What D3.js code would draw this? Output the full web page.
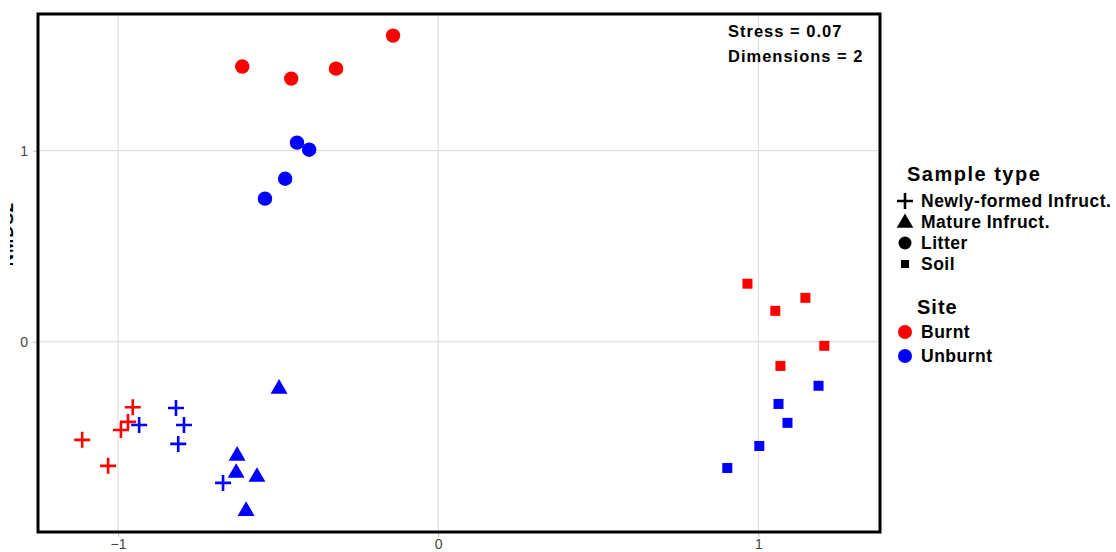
<!DOCTYPE html>
<html>
<head>
<meta charset="utf-8">
<script src="https://cdn.jsdelivr.net/npm/d3@7"></script>
<style>
  body { margin: 0; background: #fff; }
  text { font-family: "Liberation Sans", Arial, sans-serif; }
  .axis path { display: none; }
  .axis line { stroke: #bdbdbd; }
  .axis text { fill: #444; font-size: 14px; }
  .legend text { font-weight: bold; fill: #000; }
</style>
</head>
<body>
<script>
// NMDS scores
var litterBurntX = [-0.612, -0.459, -0.319, -0.141];
var litterBurntY = [1.440, 1.377, 1.429, 1.602];
var litterUnburntX = [-0.441, -0.403, -0.478, -0.541];
var litterUnburntY = [1.042, 1.005, 0.853, 0.749];
var soilBurntX = [0.966, 1.053, 1.147, 1.206, 1.069];
var soilBurntY = [0.304, 0.162, 0.230, -0.021, -0.126];
var soilUnburntX = [1.188, 1.063, 1.091, 1.003, 0.903];
var soilUnburntY = [-0.230, -0.325, -0.424, -0.545, -0.660];
var newBurntX = [-0.954, -0.969, -0.991, -1.112, -1.031];
var newBurntY = [-0.342, -0.419, -0.461, -0.513, -0.649];
var newUnburntX = [-0.819, -0.934, -0.794, -0.812, -0.672];
var newUnburntY = [-0.346, -0.435, -0.435, -0.534, -0.738];
var matureUnburntX = [-0.497, -0.628, -0.631, -0.566, -0.600];
var matureUnburntY = [-0.246, -0.597, -0.686, -0.707, -0.885];

var xTicks = [-1, 0, 1];
var yTicks = [0, 1];
var sampleTypes = ['Newly-formed Infruct.', 'Mature Infruct.', 'Litter', 'Soil'];
var sites = ['Burnt', 'Unburnt'];
var siteColors = ['#ff0000', '#0000ff'];

var width = 1116, height = 552;
var panel = { left: 38, right: 880, top: 14, bottom: 532 };

var x = d3.scaleLinear().domain([-1.25, 1.38]).range([panel.left, panel.right]);
var y = d3.scaleLinear().domain([-0.995, 1.715]).range([panel.bottom, panel.top]);
var color = d3.scaleOrdinal().domain(sites).range(siteColors);

function zip(xs, ys, type, site) {
	return xs.map(function(v, i) { return { x: v, y: ys[i], type: type, site: site }; });
}

var points = [].concat(
	zip(litterBurntX, litterBurntY, 'Litter', 'Burnt'),
	zip(litterUnburntX, litterUnburntY, 'Litter', 'Unburnt'),
	zip(soilBurntX, soilBurntY, 'Soil', 'Burnt'),
	zip(soilUnburntX, soilUnburntY, 'Soil', 'Unburnt'),
	zip(newBurntX, newBurntY, 'Newly-formed Infruct.', 'Burnt'),
	zip(newUnburntX, newUnburntY, 'Newly-formed Infruct.', 'Unburnt'),
	zip(matureUnburntX, matureUnburntY, 'Mature Infruct.', 'Unburnt')
);

var svg = d3.select('body').append('svg')
	.attr('width', width)
	.attr('height', height);

// grid
svg.append('g').selectAll('line').data(xTicks).join('line')
	.attr('x1', function(d) { return x(d); }).attr('x2', function(d) { return x(d); })
	.attr('y1', panel.top).attr('y2', panel.bottom)
	.attr('stroke', '#d9d9d9');
svg.append('g').selectAll('line').data(yTicks).join('line')
	.attr('y1', function(d) { return y(d); }).attr('y2', function(d) { return y(d); })
	.attr('x1', panel.left).attr('x2', panel.right)
	.attr('stroke', '#d9d9d9');

svg.append('g')
	.attr('class', 'axis axis--x')
	.attr('transform', 'translate(0,' + panel.bottom + ')')
	.call(d3.axisBottom(x).tickValues(xTicks).tickSize(5).tickPadding(2).tickFormat(d3.format('d')));

svg.append('g')
	.attr('class', 'axis axis--y')
	.attr('transform', 'translate(' + panel.left + ',0)')
	.call(d3.axisLeft(y).tickValues(yTicks).tickSize(5).tickPadding(5).tickFormat(d3.format('d')));

// y title, mostly cut off at the left edge
svg.append('clipPath').attr('id', 'ytclip')
	.append('rect').attr('x', 10).attr('y', 0).attr('width', 20).attr('height', height);
svg.append('g')
	.attr('clip-path', 'url(#ytclip)')
	.append('text')
		.attr('transform', 'translate(13,234) rotate(-90)')
		.attr('text-anchor', 'middle')
		.style('font-size', '17px')
		.style('font-weight', 'bold')
		.style('letter-spacing', '1px')
		.text('NMDS2');

function plusPath(d) {
	var cx = x(d.x), cy = y(d.y), r = 8;
	return 'M' + (cx - r) + ',' + cy + 'H' + (cx + r) + 'M' + cx + ',' + (cy - r) + 'V' + (cy + r);
}

var marks = svg.append('g');

marks.selectAll('path.plus')
	.data(points.filter(function(d) { return d.type === 'Newly-formed Infruct.'; }))
	.join('path')
		.attr('class', 'plus')
		.attr('d', plusPath)
		.attr('fill', 'none')
		.attr('stroke', function(d) { return color(d.site); })
		.attr('stroke-width', 2.6);

marks.selectAll('path.tri')
	.data(points.filter(function(d) { return d.type === 'Mature Infruct.'; }))
	.join('path')
		.attr('class', 'tri')
		.attr('transform', function(d) { return 'translate(' + x(d.x) + ',' + y(d.y) + ')'; })
		.attr('d', d3.symbol(d3.symbolTriangle, 125))
		.attr('fill', function(d) { return color(d.site); });

marks.selectAll('circle')
	.data(points.filter(function(d) { return d.type === 'Litter'; }))
	.join('circle')
		.attr('cx', function(d) { return x(d.x); })
		.attr('cy', function(d) { return y(d.y); })
		.attr('r', 7.2)
		.attr('fill', function(d) { return color(d.site); });

marks.selectAll('rect')
	.data(points.filter(function(d) { return d.type === 'Soil'; }))
	.join('rect')
		.attr('x', function(d) { return x(d.x) - 5; })
		.attr('y', function(d) { return y(d.y) - 5; })
		.attr('width', 10)
		.attr('height', 10)
		.attr('fill', function(d) { return color(d.site); });

// panel border
svg.append('rect')
	.attr('x', panel.left).attr('y', panel.top)
	.attr('width', panel.right - panel.left)
	.attr('height', panel.bottom - panel.top)
	.attr('fill', 'none')
	.attr('stroke', '#000')
	.attr('stroke-width', 3);

var stats = svg.append('g').attr('class', 'legend');
stats.selectAll('text').data(['Stress = 0.07', 'Dimensions = 2']).join('text')
	.attr('x', 728)
	.attr('y', function(d, i) { return 37 + i * 25; })
	.style('font-size', '16.5px')
	.style('letter-spacing', '1px')
	.text(function(d) { return d; });

// legend
var legend = svg.append('g').attr('class', 'legend');
legend.append('text').attr('x', 907).attr('y', 181)
	.style('font-size', '20px').style('letter-spacing', '1.5px')
	.text('Sample type');

var typeRows = legend.selectAll('g.type').data(sampleTypes).join('g')
	.attr('class', 'type')
	.attr('transform', function(d, i) { return 'translate(905,' + (201 + i * 21) + ')'; });
typeRows.append('text')
	.attr('x', 16).attr('dy', '0.36em')
	.style('font-size', '17.5px')
	.style('letter-spacing', '0.5px')
	.text(function(d) { return d; });
typeRows.each(function(d) {
	var g = d3.select(this);
	if (d === 'Newly-formed Infruct.') {
		g.append('path').attr('d', 'M-8,0H8M0,-8V8').attr('stroke', '#000').attr('stroke-width', 2.6);
	} else if (d === 'Mature Infruct.') {
		g.append('path').attr('transform', 'translate(0,1)').attr('d', d3.symbol(d3.symbolTriangle, 120)).attr('fill', '#000');
	} else if (d === 'Litter') {
		g.append('circle').attr('r', 6.5).attr('fill', '#000');
	} else {
		g.append('rect').attr('x', -4).attr('y', -4).attr('width', 8).attr('height', 8).attr('fill', '#000');
	}
});

legend.append('text').attr('x', 917).attr('y', 314)
	.style('font-size', '20px').style('letter-spacing', '1px')
	.text('Site');
var siteRows = legend.selectAll('g.site').data(sites).join('g')
	.attr('class', 'site')
	.attr('transform', function(d, i) { return 'translate(905,' + (332 + i * 24) + ')'; });
siteRows.append('circle').attr('r', 7).attr('fill', function(d) { return color(d); });
siteRows.append('text')
	.attr('x', 16).attr('dy', '0.36em')
	.style('font-size', '17.5px')
	.style('letter-spacing', '0.5px')
	.text(function(d) { return d; });
</script>
</body>
</html>
